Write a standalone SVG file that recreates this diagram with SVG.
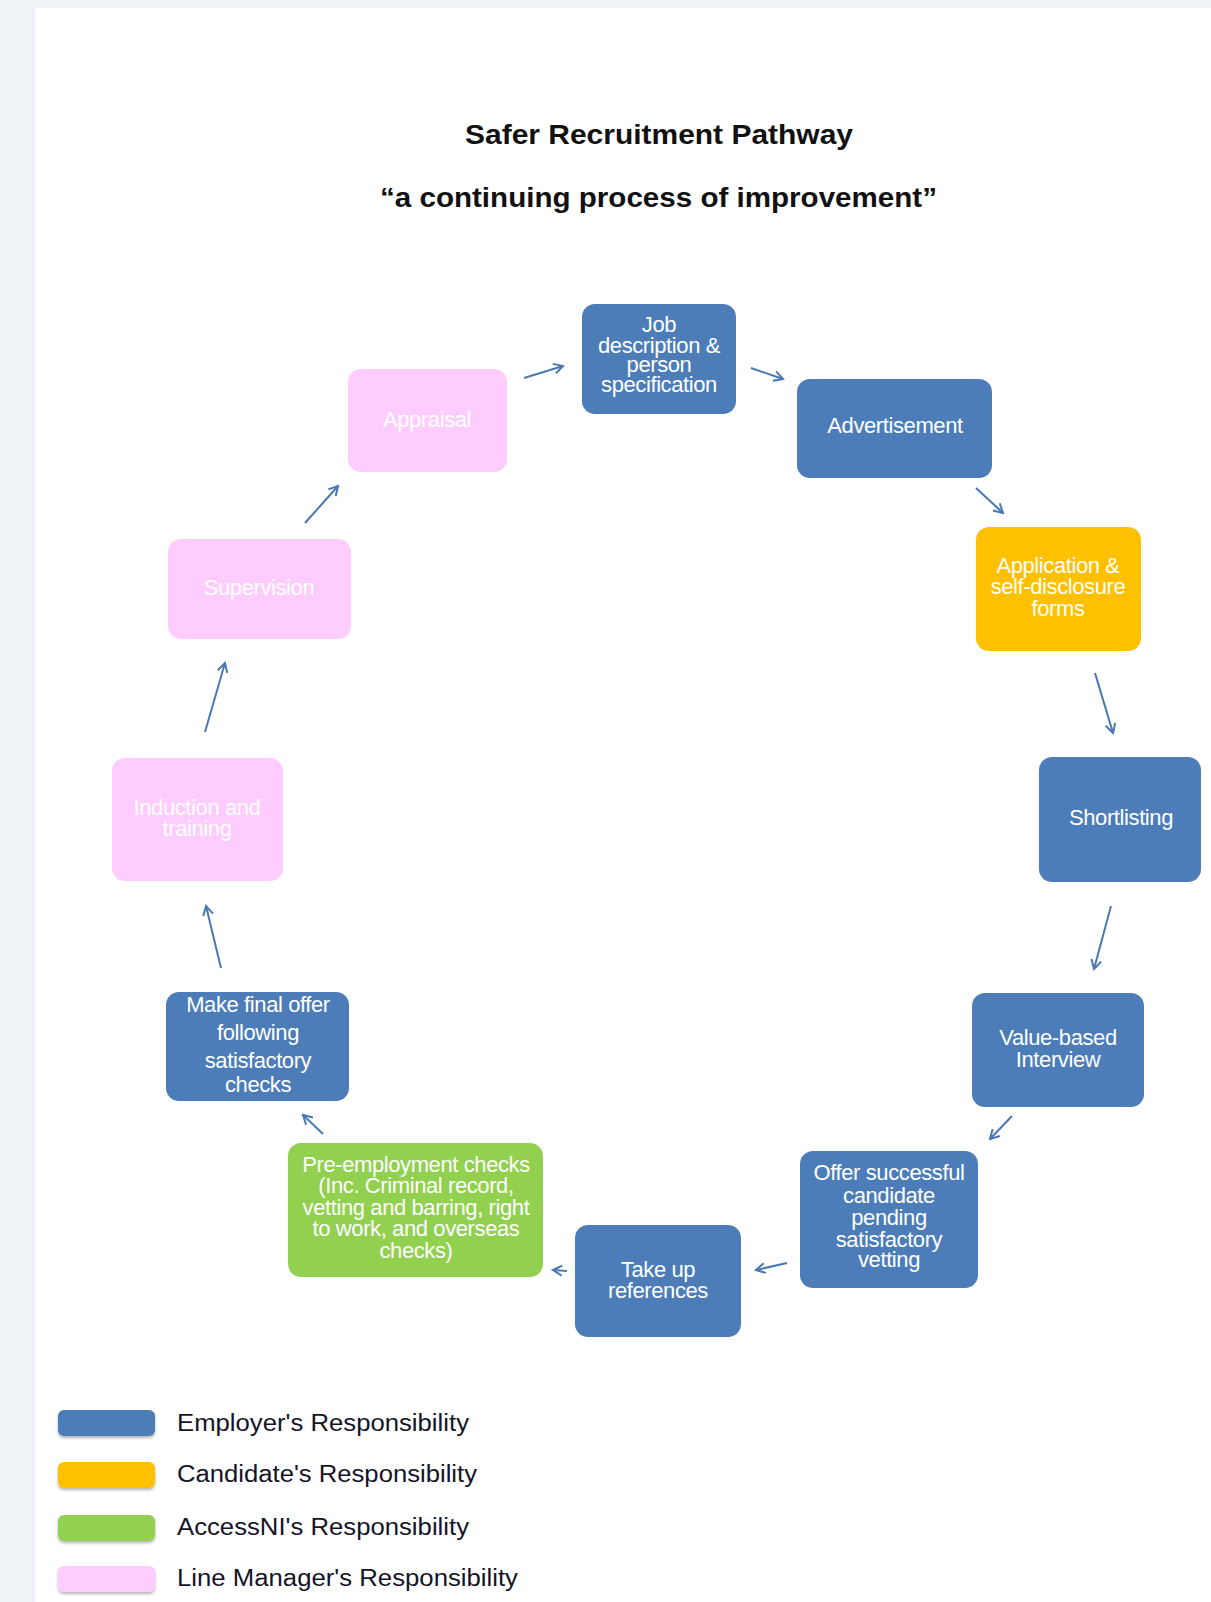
<svg xmlns="http://www.w3.org/2000/svg" width="1211" height="1602" viewBox="0 0 1211 1602">
<defs>
<style>
.bg{fill:#eff3f7}
.node rect{rx:13px;ry:13px}
.blue{fill:#4c7db9}
.orange{fill:#ffc000}
.green{fill:#92d050}
.pink{fill:#ffccff}
.nt{font-family:"Liberation Sans",Arial,sans-serif;font-size:22px;fill:#ffffff;text-anchor:middle;letter-spacing:-0.4px}
.title{font-family:"Liberation Sans",Arial,sans-serif;font-weight:bold;font-size:28px;fill:#111111;text-anchor:middle}
.lt{font-family:"Liberation Sans",Arial,sans-serif;font-size:23px;fill:#141428}
.conn line{stroke:#4a78b2;stroke-width:2;fill:none}
</style>
<marker id="ah" markerWidth="12" markerHeight="12" refX="10" refY="6" orient="auto" markerUnits="userSpaceOnUse">
<path d="M1,1 L10,6 L1,11" fill="none" stroke="#4a78b2" stroke-width="2"/>
</marker>
<filter id="sh" x="-10%" y="-20%" width="120%" height="160%">
<feDropShadow dx="0" dy="2" stdDeviation="1.5" flood-color="#000000" flood-opacity="0.3"/>
</filter>
</defs>
<rect class="bg" x="0" y="0" width="1211" height="1602"/>
<rect x="35" y="8" width="1176" height="1594" fill="#ffffff"/>

<g id="title">
<text class="title" x="659" y="144" textLength="388" lengthAdjust="spacingAndGlyphs">Safer Recruitment Pathway</text>
<text class="title" x="658.5" y="207" textLength="557" lengthAdjust="spacingAndGlyphs">“a continuing process of improvement”</text>
</g>

<g id="connectors" class="conn">
<line x1="524" y1="378" x2="563" y2="366" marker-end="url(#ah)"/>
<line x1="751" y1="368" x2="783" y2="379" marker-end="url(#ah)"/>
<line x1="976" y1="488" x2="1003" y2="513" marker-end="url(#ah)"/>
<line x1="1095" y1="673" x2="1113" y2="733" marker-end="url(#ah)"/>
<line x1="1111" y1="906" x2="1094" y2="969" marker-end="url(#ah)"/>
<line x1="1012" y1="1116" x2="990" y2="1139" marker-end="url(#ah)"/>
<line x1="787" y1="1263" x2="756" y2="1270" marker-end="url(#ah)"/>
<line x1="567" y1="1271" x2="553" y2="1270" marker-end="url(#ah)"/>
<line x1="323" y1="1134" x2="303" y2="1115" marker-end="url(#ah)"/>
<line x1="221" y1="968" x2="206" y2="906" marker-end="url(#ah)"/>
<line x1="205" y1="732" x2="225" y2="663" marker-end="url(#ah)"/>
<line x1="305" y1="523" x2="338" y2="486" marker-end="url(#ah)"/>
</g>

<g id="job" class="node">
<rect class="blue" x="582" y="304" width="154" height="110"/>
<text class="nt" x="659" y="332">Job</text>
<text class="nt" x="659" y="353">description &amp;</text>
<text class="nt" x="659" y="372">person</text>
<text class="nt" x="659" y="392">specification</text>
</g>
<g id="advertisement" class="node">
<rect class="blue" x="797" y="379" width="195" height="99"/>
<text class="nt" x="895" y="433">Advertisement</text>
</g>
<g id="application" class="node">
<rect class="orange" x="976" y="527" width="165" height="124"/>
<text class="nt" x="1058" y="573">Application &amp;</text>
<text class="nt" x="1058" y="594">self-disclosure</text>
<text class="nt" x="1058" y="616">forms</text>
</g>
<g id="shortlisting" class="node">
<rect class="blue" x="1039" y="757" width="162" height="125"/>
<text class="nt" x="1121" y="825">Shortlisting</text>
</g>
<g id="interview" class="node">
<rect class="blue" x="972" y="993" width="172" height="114"/>
<text class="nt" x="1058" y="1045">Value-based</text>
<text class="nt" x="1058" y="1067">Interview</text>
</g>
<g id="offer" class="node">
<rect class="blue" x="800" y="1151" width="178" height="137"/>
<text class="nt" x="889" y="1180">Offer successful</text>
<text class="nt" x="889" y="1203">candidate</text>
<text class="nt" x="889" y="1225">pending</text>
<text class="nt" x="889" y="1247">satisfactory</text>
<text class="nt" x="889" y="1267">vetting</text>
</g>
<g id="references" class="node">
<rect class="blue" x="575" y="1225" width="166" height="112"/>
<text class="nt" x="658" y="1277">Take up</text>
<text class="nt" x="658" y="1298">references</text>
</g>
<g id="preemployment" class="node">
<rect class="green" x="288" y="1143" width="255" height="134"/>
<text class="nt" x="416" y="1172">Pre-employment checks</text>
<text class="nt" x="416" y="1193">(Inc. Criminal record,</text>
<text class="nt" x="416" y="1215">vetting and barring, right</text>
<text class="nt" x="416" y="1236">to work, and overseas</text>
<text class="nt" x="416" y="1258">checks)</text>
</g>
<g id="finaloffer" class="node">
<rect class="blue" x="166" y="992" width="183" height="109"/>
<text class="nt" x="258" y="1012">Make final offer</text>
<text class="nt" x="258" y="1040">following</text>
<text class="nt" x="258" y="1068">satisfactory</text>
<text class="nt" x="258" y="1092">checks</text>
</g>
<g id="induction" class="node">
<rect class="pink" x="112" y="758" width="171" height="123"/>
<text class="nt" x="197" y="815">Induction and</text>
<text class="nt" x="197" y="836">training</text>
</g>
<g id="supervision" class="node">
<rect class="pink" x="168" y="539" width="183" height="100"/>
<text class="nt" x="259" y="595">Supervision</text>
</g>
<g id="appraisal" class="node">
<rect class="pink" x="348" y="369" width="159" height="103"/>
<text class="nt" x="427" y="427">Appraisal</text>
</g>

<g id="legend">
<g id="legend-employer">
<rect class="blue" x="58" y="1410" width="97" height="26" rx="6" filter="url(#sh)"/>
<text class="lt" x="177" y="1431" textLength="292" lengthAdjust="spacingAndGlyphs">Employer's Responsibility</text>
</g>
<g id="legend-candidate">
<rect class="orange" x="58" y="1462" width="97" height="26" rx="6" filter="url(#sh)"/>
<text class="lt" x="177" y="1482" textLength="300" lengthAdjust="spacingAndGlyphs">Candidate's Responsibility</text>
</g>
<g id="legend-accessni">
<rect class="green" x="58" y="1515" width="97" height="26" rx="6" filter="url(#sh)"/>
<text class="lt" x="177" y="1535" textLength="292" lengthAdjust="spacingAndGlyphs">AccessNI's Responsibility</text>
</g>
<g id="legend-linemanager">
<rect class="pink" x="58" y="1566" width="97" height="26" rx="6" filter="url(#sh)"/>
<text class="lt" x="177" y="1586" textLength="341" lengthAdjust="spacingAndGlyphs">Line Manager's Responsibility</text>
</g>
</g>
</svg>
